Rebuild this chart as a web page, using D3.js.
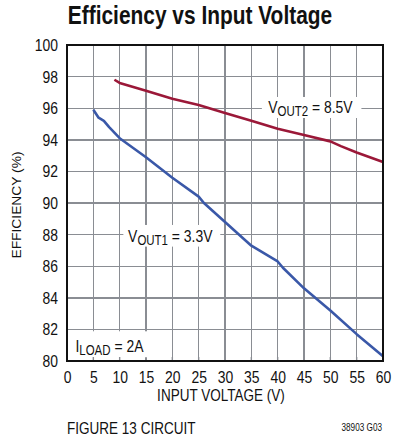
<!DOCTYPE html>
<html>
<head>
<meta charset="utf-8">
<script src="https://cdn.jsdelivr.net/npm/d3@7"></script>
<style>
  body { margin: 0; background: #fff; }
  text { font-family: "Liberation Sans", Arial, sans-serif; fill: #111; }
</style>
</head>
<body>
<div id="chart"></div>
<script>
// input voltage (V) / efficiency (%) for each output
var vin1 = [5, 6, 7, 8, 10, 15, 20, 25, 26, 30, 35, 40, 41, 45, 50, 55, 60];
var eff1 = [95.9, 95.4, 95.2, 94.8, 94.1, 92.9, 91.6, 90.4, 90.0, 88.8, 87.3, 86.3, 85.9, 84.6, 83.2, 81.7, 80.3];

var vin2 = [9, 10, 15, 20, 25, 30, 35, 40, 45, 50, 52, 55, 60];
var eff2 = [97.8, 97.6, 97.1, 96.6, 96.2, 95.7, 95.2, 94.7, 94.3, 93.9, 93.6, 93.2, 92.6];

var xTicks = [0, 5, 10, 15, 20, 25, 30, 35, 40, 45, 50, 55, 60];
var yTicks = [80, 82, 84, 86, 88, 90, 92, 94, 96, 98, 100];

var margin = {top: 45, right: 18, bottom: 84, left: 67},
    width = 316,
    height = 316;
var narrowK = 0.82;   // fake "narrow" face by squeezing Liberation Sans
var gridColor = '#8a8d93';

var svg = d3.select('#chart')
    .append('svg')
        .attr('width', 401)
        .attr('height', 445);

var g = svg.append('g')
    .attr('transform', 'translate(' + margin.left + ',' + margin.top + ')');

var x = d3.scaleLinear().domain([0, 60]).range([0, width]);
var y = d3.scaleLinear().domain([80, 100]).range([height, 0]);

// squeeze a text horizontally around its own x
function narrow(sel) {
    sel.each(function() {
        var t = d3.select(this);
        var tx = +t.attr('x') || 0;
        t.attr('transform', 'translate(' + tx * (1 - narrowK) + ',0) scale(' + narrowK + ',1)');
    });
}

// title
svg.append('text')
    .attr('x', 200).attr('y', 24)
    .attr('text-anchor', 'middle')
    .style('font-size', '25.5px').style('font-weight', 'bold')
    .text('Efficiency vs Input Voltage')
    .call(narrow);

// grid
var seg = d3.line();
var grid = g.append('g')
    .attr('fill', 'none')
    .attr('stroke', gridColor)
    .attr('stroke-width', 1.4)
    .attr('shape-rendering', 'crispEdges');
grid.selectAll('.vgrid')
    .data(xTicks)
    .enter().append('path')
    .attr('class', 'vgrid')
    .attr('d', function(d) { return seg([[x(d), 0], [x(d), height]]); });
grid.selectAll('.hgrid')
    .data(yTicks)
    .enter().append('path')
    .attr('class', 'hgrid')
    .attr('d', function(d) { return seg([[0, y(d)], [width, y(d)]]); });

// lines
var lineGen = d3.line()
    .x(function(d) { return x(d[0]); })
    .y(function(d) { return y(d[1]); });

g.append('path')
    .datum(d3.zip(vin2, eff2))
    .attr('fill', 'none')
    .attr('stroke', '#9b1838')
    .attr('stroke-width', 2.6)
    .attr('stroke-linejoin', 'round')
    .attr('d', lineGen);

g.append('path')
    .datum(d3.zip(vin1, eff1))
    .attr('fill', 'none')
    .attr('stroke', '#3a58a8')
    .attr('stroke-width', 2.6)
    .attr('stroke-linejoin', 'round')
    .attr('d', lineGen);

// labels on white boxes (box in data units: x0, x1, y0, y1)
function label(xv, yv, main, sub, rest, box) {
    var lg = g.append('g');
    lg.append('rect')
        .attr('fill', '#fff')
        .attr('x', x(box[0])).attr('y', y(box[3]))
        .attr('width', x(box[1]) - x(box[0]))
        .attr('height', y(box[2]) - y(box[3]));
    var t = lg.append('text')
        .attr('x', x(xv)).attr('y', y(yv))
        .style('font-size', '17px');
    t.append('tspan').text(main);
    t.append('tspan').attr('dy', 3).style('font-size', '14px').text(sub);
    t.append('tspan').attr('dy', -3).text(rest);
    t.call(narrow);
}
label(38.2, 95.72, 'V', 'OUT2', ' = 8.5V', [37.0, 55.9, 95.38, 96.71]);
label(11.6, 87.55, 'V', 'OUT1', ' = 3.3V', [10.7, 29.1, 87.24, 88.61]);
label(1.6, 80.6, 'I', 'LOAD', ' = 2A', [0, 15.7, 80.2, 81.88]);

// short inner ticks along the bottom (visible inside the I_LOAD box)
g.append('g')
    .attr('fill', 'none')
    .attr('stroke', gridColor)
    .attr('stroke-width', 1.4)
    .selectAll('.itick')
    .data(xTicks)
    .enter().append('path')
    .attr('class', 'itick')
    .attr('d', function(d) { return seg([[x(d), height - 4], [x(d), height]]); });

// frame
g.append('rect')
    .attr('width', width).attr('height', height)
    .attr('fill', 'none').attr('stroke', '#111').attr('stroke-width', 2);

// axes
var xAxis = g.append('g')
    .attr('transform', 'translate(0,' + height + ')')
    .call(d3.axisBottom(x).tickValues(xTicks).tickSize(0).tickPadding(10));
var yAxis = g.append('g')
    .call(d3.axisLeft(y).tickValues(yTicks).tickSize(0).tickPadding(9));
xAxis.select('.domain').remove();
yAxis.select('.domain').remove();
g.selectAll('.tick text')
    .style('font-size', '17px')
    .style('font-family', '"Liberation Sans", Arial, sans-serif')
    .attr('fill', '#111')
    .call(narrow);

// axis titles
svg.append('text')
    .attr('x', margin.left + width / 2 - 4).attr('y', 401)
    .attr('text-anchor', 'middle')
    .style('font-size', '16.5px')
    .text('INPUT VOLTAGE (V)')
    .call(narrow);
svg.append('text')
    .attr('transform', 'translate(21,' + 205 + ') rotate(-90)')
    .attr('text-anchor', 'middle')
    .attr('textLength', 107)
    .attr('lengthAdjust', 'spacingAndGlyphs')
    .style('font-size', '12.5px')
    .text('EFFICIENCY (%)');

// footer
svg.append('text')
    .attr('x', 67).attr('y', 434)
    .style('font-size', '16.5px')
    .text('FIGURE 13 CIRCUIT')
    .call(narrow);
svg.append('text')
    .attr('x', 382).attr('y', 431)
    .attr('text-anchor', 'end')
    .style('font-size', '10px')
    .text('38903 G03')
    .call(narrow);
</script>
</body>
</html>
